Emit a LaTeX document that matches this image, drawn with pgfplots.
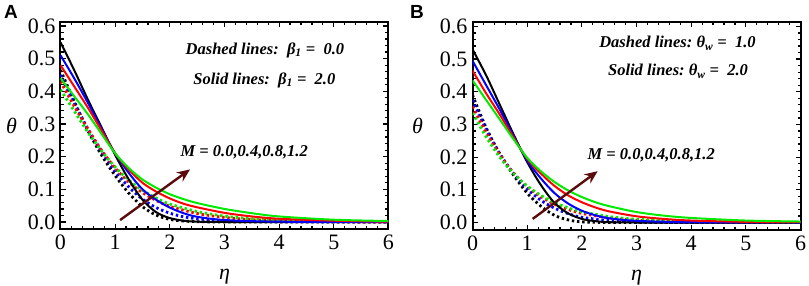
\documentclass[border=0pt]{standalone}
\usepackage{fontspec}
\setmainfont{Liberation Serif}
\newfontfamily\panelfont{Liberation Sans}
\usepackage{pgfplots}
\pgfplotsset{compat=1.18}
\usetikzlibrary{arrows.meta}
\definecolor{arrowc}{RGB}{90,12,12}
\definecolor{mgreen}{RGB}{0,235,0}
\newcommand{\annot}{\fontsize{16.5}{18}\selectfont\bfseries\itshape}

\pgfplotsset{
  myax/.style={
    scale only axis, width=328pt, height=207pt,
    xmin=0, xmax=6, ymin=-0.0214, ymax=0.612,
    xtick={0,1,2,3,4,5,6}, ytick={0,0.1,0.2,0.3,0.4,0.5,0.6},
    minor x tick num=4, minor y tick num=4,
    tick align=inside, tick pos=both,
    major tick length=5pt, minor tick length=3pt,
    every tick/.style={black, line width=1.2pt},
    axis line style={line width=2pt},
    /pgf/number format/assume math mode=true,
    tick label style={font=\fontsize{22}{22}\selectfont, inner sep=1pt},
    xticklabel style={yshift=-5pt},
    yticklabel style={/pgf/number format/fixed, /pgf/number format/fixed zerofill, /pgf/number format/precision=1, xshift=-4pt},
    every axis x label/.style={at={(axis description cs:0.5,0)}, anchor=center, yshift=-48pt, font=\fontsize{22}{22}\selectfont},
    every axis y label/.style={at={(axis description cs:0,0.5)}, anchor=center, xshift=-49pt, font=\fontsize{22}{22}\selectfont},
    xlabel={\textit{η}}, ylabel={\textit{θ}},
    clip=true,
  },
  sol/.style={line width=2pt, smooth, tension=0.5, no marks},
  dsh/.style={line width=2.8pt, smooth, tension=0.5, no marks, dash pattern=on 2.4pt off 2.8pt},
}

\begin{document}
\begin{tikzpicture}
\path[use as bounding box] (0,0) rectangle (809pt,-286pt);
\node[font=\panelfont\bfseries\fontsize{19}{19}\selectfont, anchor=center] at (11pt,-11.5pt) {A};
\node[font=\panelfont\bfseries\fontsize{19}{19}\selectfont, anchor=center] at (417pt,-11.5pt) {B};

% ---------------- Panel A ----------------
\begin{axis}[myax, at={(60.5pt,-229pt)}, anchor=south west]
% dashed (beta1 = 0.0)
\addplot[dsh, black] coordinates {(0,0.465)(0.25,0.37)(0.5,0.28)(0.75,0.205)(1.0,0.142)(1.25,0.088)(1.5,0.047)(1.75,0.021)(2.0,0.008)(2.25,0.003)(2.5,0.001)(3,0)(4,0)(6,0)};
\addplot[dsh, blue] coordinates {(0,0.45)(0.25,0.365)(0.5,0.285)(0.75,0.215)(1.0,0.155)(1.25,0.107)(1.5,0.07)(1.75,0.044)(2.0,0.027)(2.25,0.016)(2.5,0.01)(3,0.004)(4,0.001)(6,0)};
\addplot[dsh, red] coordinates {(0,0.43)(0.25,0.355)(0.5,0.285)(0.75,0.22)(1.0,0.165)(1.25,0.122)(1.5,0.09)(1.75,0.066)(2.0,0.048)(2.5,0.026)(3,0.014)(3.5,0.007)(4,0.004)(5,0.001)(6,0)};
\addplot[dsh, mgreen] coordinates {(0,0.405)(0.25,0.34)(0.5,0.275)(0.75,0.218)(1.0,0.168)(1.25,0.128)(1.5,0.097)(1.75,0.073)(2.0,0.055)(2.5,0.032)(3,0.018)(3.5,0.01)(4,0.006)(5,0.002)(6,0.001)};
% solid (beta1 = 2.0)
\addplot[sol, black] coordinates {(0,0.55)(0.25,0.465)(0.5,0.375)(0.75,0.29)(1.0,0.205)(1.25,0.13)(1.5,0.068)(1.75,0.03)(2.0,0.012)(2.25,0.004)(2.5,0.001)(3,0)(4,0)(6,0)};
\addplot[sol, blue] coordinates {(0,0.51)(0.25,0.44)(0.5,0.365)(0.75,0.285)(1.0,0.21)(1.25,0.15)(1.5,0.1)(1.75,0.068)(2.0,0.044)(2.25,0.027)(2.5,0.016)(3,0.006)(4,0.001)(6,0)};
\addplot[sol, red] coordinates {(0,0.48)(0.25,0.415)(0.5,0.35)(0.75,0.28)(1.0,0.21)(1.25,0.16)(1.5,0.12)(1.75,0.093)(2.0,0.072)(2.25,0.056)(2.5,0.045)(3,0.028)(3.5,0.017)(4,0.01)(5,0.004)(6,0.001)};
\addplot[sol, mgreen] coordinates {(0,0.44)(0.25,0.385)(0.5,0.33)(0.75,0.27)(1.0,0.21)(1.25,0.165)(1.5,0.13)(1.75,0.105)(2.0,0.085)(2.25,0.07)(2.5,0.058)(3,0.04)(3.5,0.027)(4,0.017)(5,0.007)(6,0.003)};
\draw[arrowc, line width=2.4pt, -{Stealth[length=13pt,width=11pt]}] (axis cs:1.09,0.006) -- (axis cs:2.37,0.161);
\node[font=\annot] at (axis cs:3.36,0.214) {M = 0.0,0.4,0.8,1.2};
\node[font=\annot] at (axis cs:3.74,0.526) {Dashed lines:\ \ β\textsubscript{1} =\ \ 0.0};
\node[font=\annot] at (axis cs:3.73,0.434) {Solid lines:\ \ β\textsubscript{1} =\ \ 2.0};
\end{axis}

% ---------------- Panel B ----------------
\begin{axis}[myax, at={(472.5pt,-229.5pt)}, anchor=south west, every axis y label/.append style={xshift=-6pt}]
% dashed (theta_w = 1.0)
\addplot[dsh, black] coordinates {(0,0.39)(0.25,0.29)(0.5,0.21)(0.75,0.145)(1.0,0.09)(1.25,0.05)(1.5,0.022)(1.75,0.008)(2.0,0.002)(2.5,0)(4,0)(6,0)};
\addplot[dsh, blue] coordinates {(0,0.375)(0.25,0.285)(0.5,0.21)(0.75,0.15)(1.0,0.103)(1.25,0.068)(1.5,0.044)(1.75,0.027)(2.0,0.016)(2.5,0.006)(3,0.002)(4,0)(6,0)};
\addplot[dsh, red] coordinates {(0,0.355)(0.25,0.275)(0.5,0.207)(0.75,0.152)(1.0,0.11)(1.25,0.079)(1.5,0.056)(1.75,0.04)(2.0,0.028)(2.5,0.014)(3,0.007)(4,0.002)(6,0)};
\addplot[dsh, mgreen] coordinates {(0,0.335)(0.25,0.262)(0.5,0.2)(0.75,0.15)(1.0,0.112)(1.25,0.083)(1.5,0.061)(1.75,0.045)(2.0,0.033)(2.5,0.018)(3,0.01)(4,0.003)(5,0.001)(6,0)};
% solid (theta_w = 2.0)
\addplot[sol, black] coordinates {(0,0.53)(0.25,0.45)(0.5,0.36)(0.75,0.27)(1.0,0.185)(1.25,0.115)(1.5,0.06)(1.75,0.028)(2.0,0.011)(2.25,0.004)(2.5,0.001)(3,0)(4,0)(6,0)};
\addplot[sol, blue] coordinates {(0,0.495)(0.25,0.42)(0.5,0.345)(0.75,0.265)(1.0,0.19)(1.25,0.135)(1.5,0.09)(1.75,0.058)(2.0,0.036)(2.25,0.022)(2.5,0.013)(3,0.005)(4,0.001)(6,0)};
\addplot[sol, red] coordinates {(0,0.465)(0.25,0.395)(0.5,0.33)(0.75,0.26)(1.0,0.195)(1.25,0.15)(1.5,0.112)(1.75,0.083)(2.0,0.062)(2.25,0.046)(2.5,0.034)(3,0.019)(3.5,0.011)(4,0.006)(5,0.002)(6,0.001)};
\addplot[sol, mgreen] coordinates {(0,0.435)(0.25,0.375)(0.5,0.315)(0.75,0.255)(1.0,0.198)(1.25,0.157)(1.5,0.124)(1.75,0.098)(2.0,0.078)(2.25,0.062)(2.5,0.05)(3,0.032)(3.5,0.021)(4,0.014)(5,0.006)(6,0.003)};
\draw[arrowc, line width=2.4pt, -{Stealth[length=13pt,width=11pt]}] (axis cs:1.1,0.011) -- (axis cs:2.29,0.157);
\node[font=\annot] at (axis cs:3.27,0.205) {M = 0.0,0.4,0.8,1.2};
\node[font=\annot] at (axis cs:3.75,0.548) {Dashed lines:\ θ\textsubscript{w} =\ \ 1.0};
\node[font=\annot] at (axis cs:3.76,0.463) {Solid lines:\ θ\textsubscript{w} =\ \ 2.0};
\end{axis}
\end{tikzpicture}
\end{document}
